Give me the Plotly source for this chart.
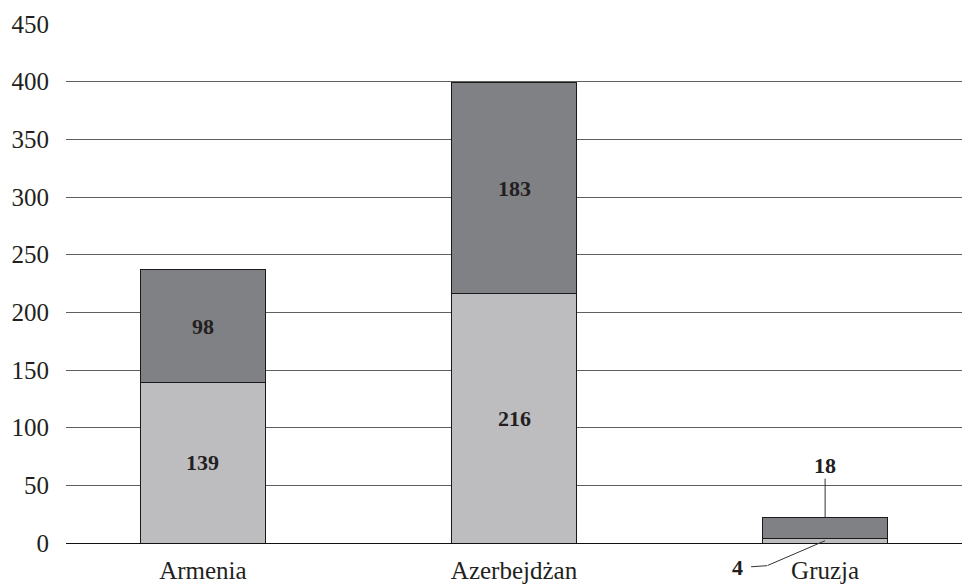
import plotly.graph_objects as go

# Data
countries = ["Armenia", "Azerbejdżan", "Gruzja"]
lower_values = [139, 216, 4]
upper_values = [98, 183, 18]
y_ticks = [0, 50, 100, 150, 200, 250, 300, 350, 400, 450]

LIGHT = "#bdbdc0"
DARK = "#808184"
SERIF = "Liberation Serif"
TXT = "#231f20"

fig = go.Figure()
fig.add_trace(go.Bar(
    x=countries, y=lower_values, width=0.4,
    marker=dict(color=LIGHT, line=dict(color="#1a1a1a", width=1)),
    showlegend=False, hoverinfo="skip",
))
fig.add_trace(go.Bar(
    x=countries, y=upper_values, width=0.4,
    marker=dict(color=DARK, line=dict(color="#1a1a1a", width=1)),
    showlegend=False, hoverinfo="skip",
))

label_font = dict(family=SERIF, size=22, color=TXT)
annotations = []
for i, (c, lo, up) in enumerate(zip(countries, lower_values, upper_values)):
    if lo + up > 50:
        # values centred inside the bar segments
        annotations.append(dict(x=c, y=lo / 2, text=f"<b>{lo}</b>",
                                showarrow=False, font=label_font))
        annotations.append(dict(x=c, y=lo + up / 2, text=f"<b>{up}</b>",
                                showarrow=False, font=label_font))
    else:
        # small bar: leader lines to outside labels
        annotations.append(dict(x=c, y=lo + up, text=f"<b>{up}</b>",
                                showarrow=True, arrowhead=0, arrowwidth=1,
                                arrowcolor="#333333", ax=0, ay=-52,
                                font=label_font, borderpad=0))
        annotations.append(dict(x=c, y=lo / 2, text=" ",
                                showarrow=True, arrowhead=0, arrowwidth=1,
                                arrowcolor="#333333", ax=-58, ay=25,
                                font=dict(size=1), borderpad=0))
        annotations.append(dict(x=c, y=lo / 2, text=f"<b>{lo}</b>",
                                xshift=-58, yshift=-25,
                                showarrow=True, arrowhead=0, arrowwidth=1,
                                arrowcolor="#333333", ax=-30, ay=2,
                                borderpad=8, font=label_font))

fig.update_layout(
    barmode="stack",
    width=962, height=586,
    margin=dict(l=66, r=0, t=24, b=43),
    paper_bgcolor="white", plot_bgcolor="white",
    font=dict(family=SERIF, size=25, color=TXT),
    annotations=annotations,
    xaxis=dict(
        type="category", range=[-0.44, 2.44], automargin=False,
        showgrid=False, showline=False, zeroline=False,
        ticks="", ticklabelstandoff=10,
        tickfont=dict(family=SERIF, size=25, color=TXT),
    ),
    yaxis=dict(
        range=[0, 450], tickvals=y_ticks, automargin=False,
        showgrid=True, gridcolor="#5f5f5f", gridwidth=1,
        zeroline=True, zerolinecolor="#111111", zerolinewidth=1,
        showline=False, ticks="", ticklabelstandoff=16,
        tickfont=dict(family=SERIF, size=25, color=TXT),
    ),
)

fig.write_html("out.html")
